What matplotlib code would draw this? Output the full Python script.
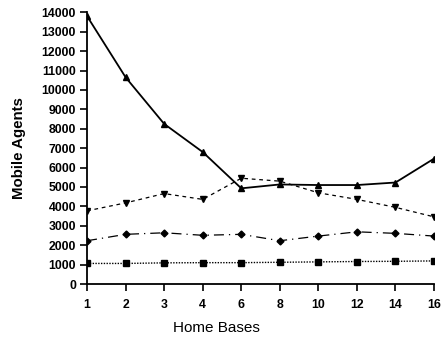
import matplotlib
matplotlib.use("Agg")
import matplotlib.pyplot as plt

home_bases = ["1", "2", "3", "4", "6", "8", "10", "12", "14", "16"]
series_up = [13800, 10650, 8250, 6800, 4930, 5130, 5100, 5100, 5230, 6460]
series_down = [3770, 4180, 4660, 4360, 5450, 5300, 4700, 4360, 3950, 3460]
series_diamond = [2230, 2560, 2640, 2510, 2560, 2230, 2470, 2690, 2610, 2470]
series_square = [1060, 1060, 1090, 1100, 1100, 1120, 1140, 1160, 1170, 1190]

plt.rcParams['font.family'] = ['Liberation Sans', 'DejaVu Sans']

fig = plt.figure(figsize=(4.42, 3.39), dpi=100)
ax = fig.add_axes([0.197, 0.1622, 0.785, 0.8015])

x = list(range(len(home_bases)))
ax.plot(x, series_up, color='black', lw=1.3, ls='-', marker='^', ms=5)
ax.plot(x, series_down, color='black', lw=0.9, ls=(0, (3, 3)), marker='v', ms=5)
ax.plot(x, series_diamond, color='black', lw=0.9, ls=(0, (8, 4, 1, 4)), marker='D', ms=3.5)
ax.plot(x, series_square, color='black', lw=1.0, ls=(0, (1, 1)), marker='s', ms=5)

ax.set_xlim(0, len(home_bases) - 1)
ax.set_ylim(0, 14000)
ax.set_xticks(x)
ax.set_xticklabels(home_bases)
ax.set_yticks(range(0, 14001, 1000))

for side in ('top', 'right'):
    ax.spines[side].set_visible(False)
for side in ('left', 'bottom'):
    ax.spines[side].set_linewidth(1.3)

ax.tick_params(axis='both', direction='out', length=5, width=1.2,
               labelsize=8.8)
ax.tick_params(axis='x', pad=6)
ax.tick_params(axis='y', pad=3)
for lbl in ax.get_xticklabels() + ax.get_yticklabels():
    lbl.set_fontweight('bold')

ax.set_xlabel('Home Bases', fontsize=11)
ax.xaxis.set_label_coords(0.372, -0.135)
ax.set_ylabel('Mobile Agents', fontsize=10.8, fontweight='bold')
ax.yaxis.set_label_coords(-0.175, 0.5)

fig.savefig('out.png', dpi=100)
